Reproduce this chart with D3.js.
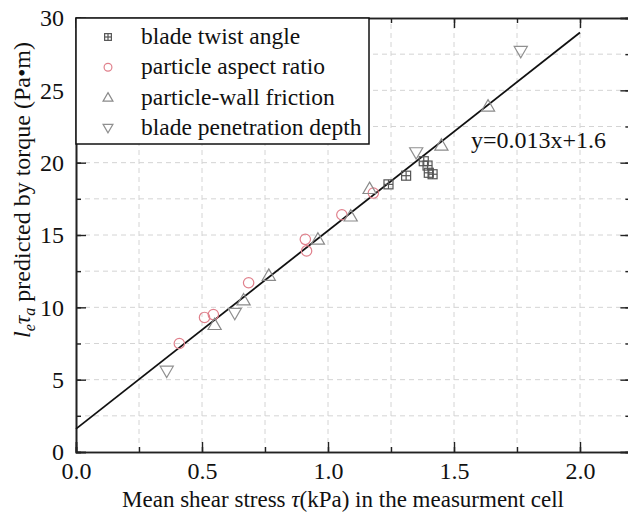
<!DOCTYPE html>
<html>
<head>
<meta charset="utf-8">
<script src="https://cdn.jsdelivr.net/npm/d3@7"></script>
<style>
  html, body { margin: 0; padding: 0; background: #fff; }
  svg { display: block; }
</style>
</head>
<body>
<svg id="chart" width="628" height="512"></svg>
<script>
// Series: x = mean shear stress (kPa), y = l_e * tau_a from torque (Pa·m)
const twistX = [1.24, 1.31, 1.38, 1.395, 1.40, 1.415];
const twistY = [18.5, 19.1, 20.1, 19.8, 19.3, 19.2];

const aspectX = [0.41, 0.51, 0.545, 0.685, 0.91, 0.915, 1.055, 1.18];
const aspectY = [7.5, 9.3, 9.5, 11.7, 14.7, 13.9, 16.4, 17.9];

const frictionX = [0.55, 0.665, 0.765, 0.96, 1.09, 1.165, 1.45, 1.635];
const frictionY = [8.8, 10.5, 12.2, 14.7, 16.3, 18.2, 21.2, 23.9];

const depthX = [0.36, 0.63, 1.35, 1.765];
const depthY = [5.6, 9.6, 20.7, 27.7];

const seriesNames = ["blade twist angle", "particle aspect ratio", "particle-wall friction", "blade penetration depth"];

// Linear fit drawn across the data
const fitX = [0, 2.0];
const fitY = [1.6, 29.0];
const fitLabel = "y=0.013x+1.6";

const xTicks = [0, 0.5, 1.0, 1.5, 2.0];
const yTicks = [0, 5, 10, 15, 20, 25, 30];

const FONT = "Liberation Serif, DejaVu Serif, serif";
const svg = d3.select("#chart").attr("font-family", FONT);
const x = d3.scaleLinear().domain([0, 2.2]).range([76, 630.4]);
const y = d3.scaleLinear().domain([0, 30]).range([452, 18]);

// Dashed grid at every major and minor tick
const xGrid = d3.range(0.25, 2.2, 0.25);
const yGrid = d3.range(2.5, 30, 2.5);
const grid = svg.append("g").attr("stroke", "#d4d4d4").attr("stroke-width", 1).attr("stroke-dasharray", "5,4");
grid.selectAll("line.v").data(xGrid).join("line").attr("class", "v")
  .attr("x1", d => x(d)).attr("x2", d => x(d)).attr("y1", y(0)).attr("y2", y(30));
grid.selectAll("line.h").data(yGrid).join("line").attr("class", "h")
  .attr("x1", x(0)).attr("x2", x(2.2)).attr("y1", d => y(d)).attr("y2", d => y(d));

// Axes with inward ticks on all four sides
const axisColor = "#222";
function styleAxis(g) {
  g.attr("font-family", FONT).attr("font-size", 24);
  g.select(".domain").attr("stroke", axisColor).attr("stroke-width", 1.6);
  g.selectAll(".tick line").attr("stroke", axisColor).attr("stroke-width", 1.4);
  g.selectAll(".tick text").attr("fill", "#111");
}
const xMinor = d3.range(0, 2.21, 0.25);
const yMinor = d3.range(0, 30.1, 2.5);

svg.append("g").attr("transform", `translate(0,${y(0)})`)
  .call(d3.axisBottom(x).tickValues(xMinor).tickSize(-5).tickFormat(""))
  .call(styleAxis);
svg.append("g").attr("transform", `translate(0,${y(0)})`)
  .call(d3.axisBottom(x).tickValues(xTicks).tickSize(-10).tickPadding(10).tickFormat(d3.format(".1f")))
  .call(styleAxis);
svg.append("g").attr("transform", `translate(0,${y(30)})`)
  .call(d3.axisTop(x).tickValues(xMinor).tickSize(-5).tickFormat(""))
  .call(styleAxis);
svg.append("g").attr("transform", `translate(0,${y(30)})`)
  .call(d3.axisTop(x).tickValues(xTicks).tickSize(-10).tickFormat(""))
  .call(styleAxis);

svg.append("g").attr("transform", `translate(${x(0)},0)`)
  .call(d3.axisLeft(y).tickValues(yMinor).tickSize(-5).tickFormat(""))
  .call(styleAxis);
svg.append("g").attr("transform", `translate(${x(0)},0)`)
  .call(d3.axisLeft(y).tickValues(yTicks).tickSize(-10).tickPadding(12).tickFormat(d3.format("d")))
  .call(styleAxis);
svg.append("g").attr("transform", `translate(${x(2.2)},0)`)
  .call(d3.axisRight(y).tickValues(yMinor).tickSize(-5).tickFormat(""))
  .call(styleAxis);
svg.append("g").attr("transform", `translate(${x(2.2)},0)`)
  .call(d3.axisRight(y).tickValues(yTicks).tickSize(-10).tickFormat(""))
  .call(styleAxis);

// Fit line
svg.append("line")
  .attr("x1", x(fitX[0])).attr("y1", y(fitY[0]))
  .attr("x2", x(fitX[1])).attr("y2", y(fitY[1]))
  .attr("stroke", "#111").attr("stroke-width", 1.8);

// Marker drawing helpers
const colors = ["#555555", "#e0808c", "#8a8a8a", "#909090"];
const triUp = d3.symbol().type(d3.symbolTriangle).size(75)();
const circ = d3.symbol().type(d3.symbolCircle).size(85)();

function drawMarker(g, kind, cx, cy, scale = 1) {
  const m = g.append("g").attr("transform", `translate(${cx},${cy}) scale(${scale})`)
    .attr("fill", "none").attr("stroke", colors[kind]).attr("stroke-width", 1.2 / scale);
  if (kind === 0) {
    const h = 4.5;
    m.append("rect").attr("x", -h).attr("y", -h).attr("width", 2 * h).attr("height", 2 * h);
    m.append("line").attr("x1", -h).attr("x2", h).attr("y1", 0).attr("y2", 0);
    m.append("line").attr("x1", 0).attr("x2", 0).attr("y1", -h).attr("y2", h);
  } else if (kind === 1) {
    m.append("path").attr("d", circ);
  } else if (kind === 2) {
    m.append("path").attr("d", triUp).attr("transform", "translate(0,1)");
  } else {
    m.append("path").attr("d", triUp).attr("transform", "translate(0,-1) rotate(180)");
  }
}

const pts = svg.append("g");
const groups = [[twistX, twistY], [aspectX, aspectY], [frictionX, frictionY], [depthX, depthY]];
groups.forEach(([xs, ys], k) => {
  xs.forEach((v, i) => drawMarker(pts, k, x(v), y(ys[i])));
});

// Legend box
const lg = svg.append("g");
lg.append("rect").attr("x", x(0)).attr("y", y(30)).attr("width", 293).attr("height", 126)
  .attr("fill", "#fff").attr("stroke", "#111").attr("stroke-width", 1.5);
seriesNames.forEach((name, i) => {
  const cy = 37 + i * 30.3;
  drawMarker(lg, i, 108, cy, 0.75);
  lg.append("text").attr("x", 141).attr("y", cy + 7).attr("font-size", 23.5).attr("fill", "#111").text(name);
});

// Fit equation
svg.append("text").attr("x", 471).attr("y", 148).attr("font-size", 24).attr("fill", "#111").text(fitLabel);

// Axis titles
svg.append("text").attr("x", 343).attr("y", 507).attr("text-anchor", "middle").attr("font-size", 23).attr("fill", "#111")
  .call(t => {
    t.append("tspan").text("Mean shear stress ");
    t.append("tspan").attr("font-style", "italic").text("τ");
    t.append("tspan").text("(kPa) in the measurment cell");
  });

svg.append("text").attr("transform", "translate(30,190) rotate(-90)").attr("text-anchor", "middle").attr("font-size", 24).attr("fill", "#111")
  .call(t => {
    t.append("tspan").attr("font-style", "italic").text("l");
    t.append("tspan").attr("font-style", "italic").attr("font-size", 16).attr("dy", 5).text("e");
    t.append("tspan").attr("font-style", "italic").attr("dy", -5).text("τ");
    t.append("tspan").attr("font-style", "italic").attr("font-size", 16).attr("dy", 5).text("a");
    t.append("tspan").attr("dy", -5).text(" predicted by torque (Pa•m)");
  });
</script>
</body>
</html>
